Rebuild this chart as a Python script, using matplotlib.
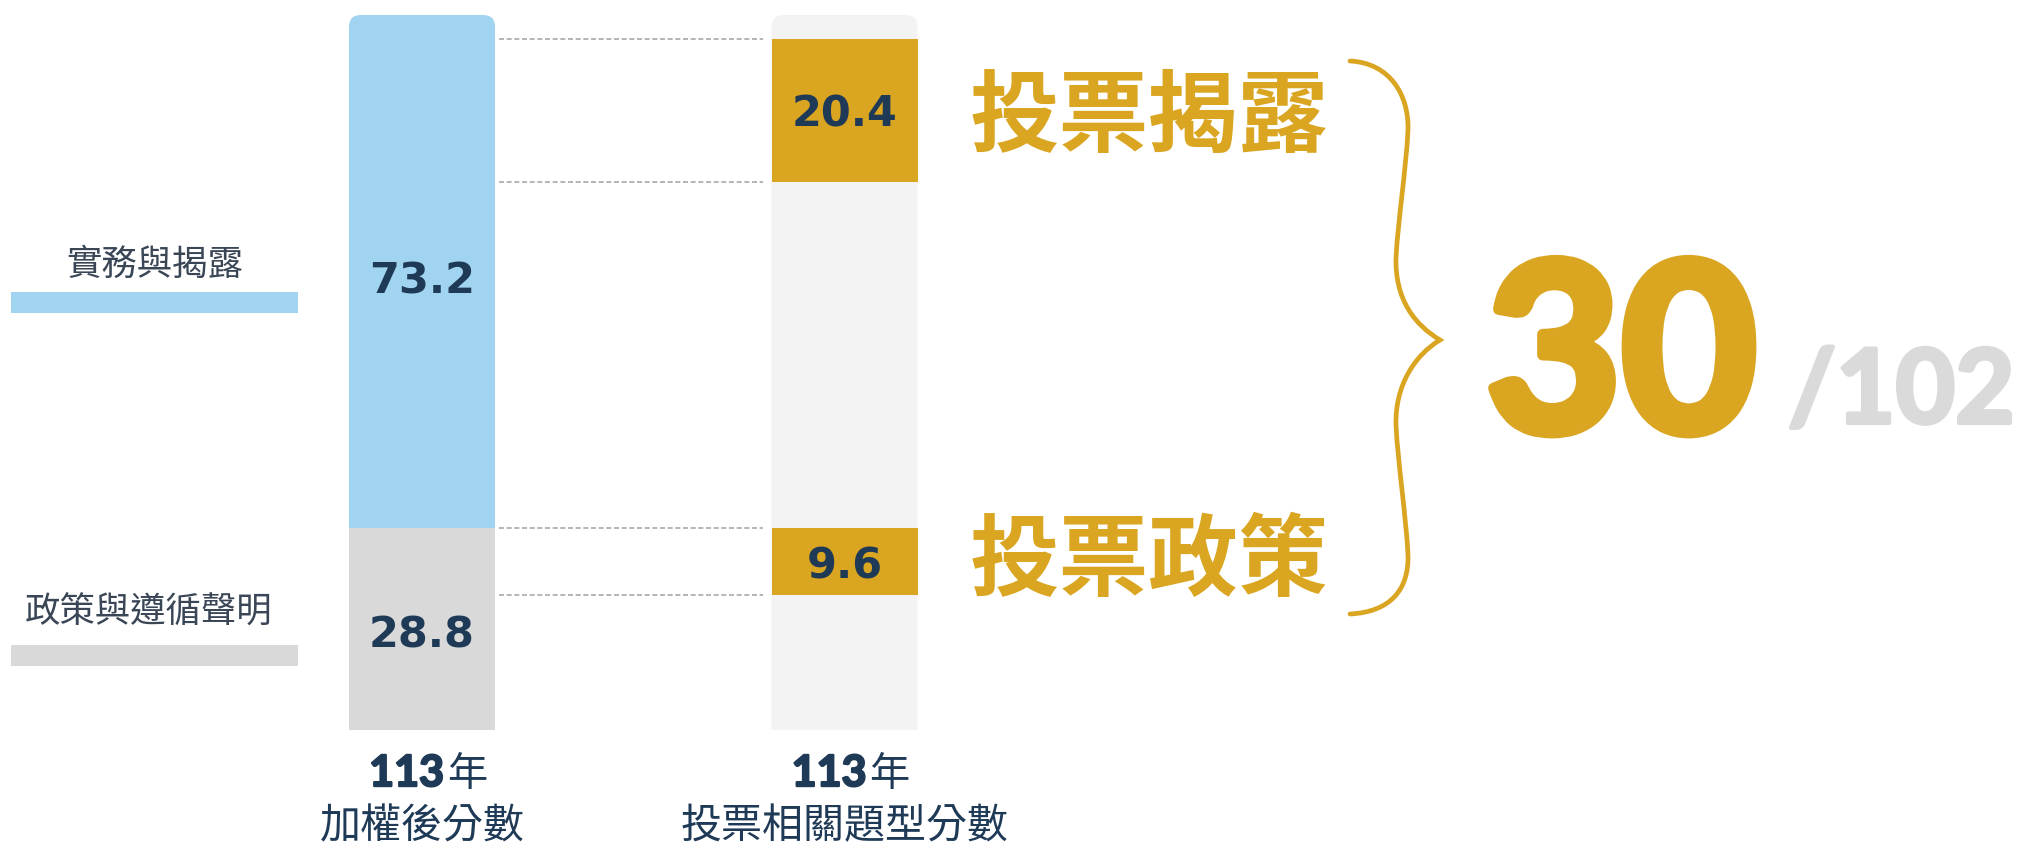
import matplotlib
matplotlib.use("Agg")
from matplotlib import pyplot as plt
from matplotlib import patheffects as pe
from matplotlib.patches import FancyBboxPatch, Rectangle, PathPatch
from matplotlib.path import Path

# Data
legend_labels = ["實務與揭露", "政策與遵循聲明"]
weighted = [73.2, 28.8]            # practice & disclosure, policy & compliance
vote_labels = ["投票揭露", "投票政策"]
vote_scores = [20.4, 9.6]
vote_bottoms = [78.2, 19.2]
total_max = 102
vote_total = 30
year_label = "113"
col_titles = ["加權後分數", "投票相關題型分數"]

BLUE = "#A0D4F0"
GRAY = "#D9D9D9"
BG = "#F3F3F3"
GOLD = "#DAA520"
NAVY = "#1F3A56"
LEG_TXT = "#3A4656"
CJK = ["Noto Sans CJK TC", "DejaVu Sans"]
NUM = ["DejaVu Sans", "Noto Sans CJK TC"]
LATO = ["Lato", "DejaVu Sans"]

W, H = 2026, 848
fig = plt.figure(figsize=(W / 100, H / 100), dpi=100)

# bar axes: value 0 sits at pixel row 730, 7.01 px per point
px_unit = 7.01
ax = fig.add_axes([0, 118 / H, 1, 730 / H])
ax.set_ylim(0, 730 / px_unit)
step = 422.5
ax.set_xlim(-422 / step, (W - 422) / step)
ax.set_axis_off()
bw = 146 / step

r = 12 / step
aspect = (12 / px_unit) / r


def round_top(bar, color):
    x, y, w, h = bar.get_x(), bar.get_y(), bar.get_width(), bar.get_height()
    bar.remove()
    ax.add_patch(FancyBboxPatch((x, y - 6), w, h + 6,
                                boxstyle=f"round,pad=0,rounding_size={r}",
                                mutation_aspect=aspect, fc=color, ec="none", zorder=1))


# left column
blue = ax.bar(0, weighted[0], bottom=weighted[1], width=bw, color=BLUE)[0]
round_top(blue, BLUE)
ax.bar(0, weighted[1], width=bw, color=GRAY, zorder=2)

# right column
bg = ax.bar(1, total_max, width=bw, color=BG)[0]
round_top(bg, BG)
ax.bar([1, 1], vote_scores, bottom=vote_bottoms, width=bw, color=GOLD, zorder=2)

# dashed guides
levels = []
for b, s in zip(vote_bottoms, vote_scores):
    levels += [b, b + s]
ax.hlines(levels, bw / 2 + 0.01, 1 - bw / 2 - 0.02, colors="#A8A8A8",
          linestyles=(0, (3, 1.6)), linewidth=1.2, zorder=2)

# value labels
lab_kw = dict(ha="center", va="center_baseline", color=NAVY, fontsize=31,
              fontweight="bold", family=NUM, zorder=3)
ax.text(0, weighted[1] + weighted[0] / 2 - 0.8, f"{weighted[0]:.1f}", **lab_kw)
ax.text(0, weighted[1] / 2 - 0.3, f"{weighted[1]:.1f}", **lab_kw)
for b, s in zip(vote_bottoms, vote_scores):
    ax.text(1, b + s / 2, f"{s:.1f}", **lab_kw)

# column titles
bold_num = [pe.withStroke(linewidth=1.6, foreground=NAVY)]
for i, t in enumerate(col_titles):
    ax.text(i + 22 / step, -8.0, year_label, ha="right", va="baseline",
            color=NAVY, fontsize=31, fontweight="bold", family=LATO,
            path_effects=bold_num)
    ax.text(i + 25 / step, -8.0, "年", ha="left", va="baseline",
            color=NAVY, fontsize=29, family=CJK)
    ax.text(i, -13.8, t, ha="center", va="center", color=NAVY,
            fontsize=29.5, family=CJK)

# overlay in pixel space for the decorations
ov = fig.add_axes([0, 0, 1, 1], zorder=5)
ov.set_xlim(0, W)
ov.set_ylim(H, 0)
ov.set_axis_off()

# legend swatches
ov.text(155, 265, legend_labels[0], ha="center", va="center", fontsize=25.5,
        color=LEG_TXT, family=CJK)
ov.add_patch(Rectangle((11, 292), 287, 21, fc=BLUE, ec="none"))
ov.text(149, 613, legend_labels[1], ha="center", va="center", fontsize=25.5,
        color=LEG_TXT, family=CJK)
ov.add_patch(Rectangle((11, 645), 287, 21, fc=GRAY, ec="none"))

# gold category names
ov.text(970, 118, vote_labels[0], ha="left", va="center", fontsize=64.5,
        fontweight="bold", color=GOLD, family=CJK)
ov.text(970, 562, vote_labels[1], ha="left", va="center", fontsize=64.5,
        fontweight="bold", color=GOLD, family=CJK)

# curly brace
verts = [(1350, 61),
         (1390, 63), (1409, 95), (1408, 130),
         (1406, 170), (1398, 220), (1396, 258),
         (1395, 300), (1415, 325), (1440, 340),
         (1415, 355), (1395, 385), (1396, 425),
         (1398, 465), (1406, 515), (1408, 555),
         (1409, 590), (1390, 612), (1350, 614)]
codes = [Path.MOVETO] + [Path.CURVE4] * 18
ov.add_patch(PathPatch(Path(verts, codes), fc="none", ec=GOLD, lw=3.4,
                       capstyle="round", joinstyle="miter"))

# total
ov.text(1486, 431, f"{vote_total}", ha="left", va="baseline", fontsize=168,
        fontweight="bold", color=GOLD, family=LATO,
        path_effects=[pe.withStroke(linewidth=8, foreground=GOLD)])
ov.text(1788, 423, f"/{total_max}", ha="left", va="baseline", fontsize=74,
        fontweight="bold", color="#DADADA", family=LATO,
        path_effects=[pe.withStroke(linewidth=3, foreground="#DADADA")])

fig.savefig("out.png", dpi=100, facecolor="white")
